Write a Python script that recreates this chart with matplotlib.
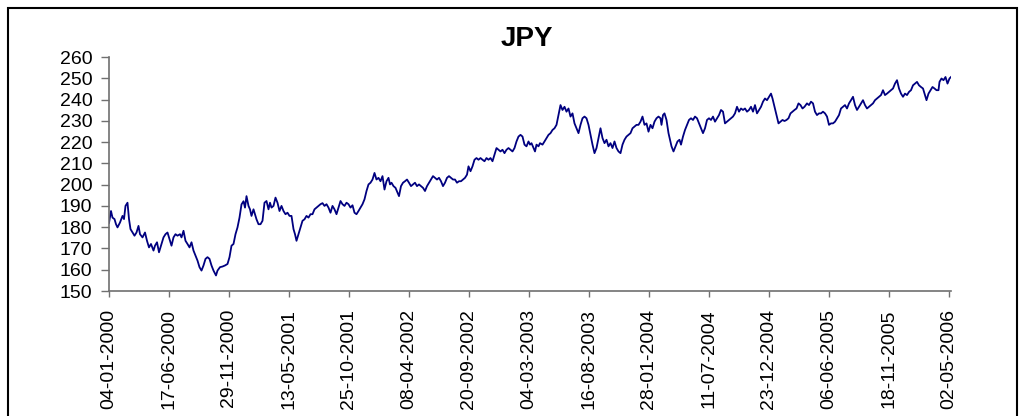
import matplotlib
matplotlib.use("Agg")
import matplotlib.pyplot as plt
from matplotlib.patches import Rectangle
import numpy as np

plt.rcParams['font.family'] = ['Liberation Sans', 'DejaVu Sans']

title = "JPY"

day_seg1 = [0, 4, 7, 11, 14, 17, 22, 27, 30, 33, 37, 40, 43, 47, 51, 55, 59, 62, 67, 72,
            76, 80, 84, 89, 92, 96, 100, 104, 109, 113, 117, 121, 125, 129, 133, 137, 142,
            145, 149, 153, 157, 161, 165, 169, 173, 177, 181, 185, 189, 193, 197, 201, 205,
            209, 214, 217, 222, 227, 232, 237, 241, 245, 249, 253, 257, 261, 265, 269, 272]
val_seg1 = [182, 187.6, 184.5, 183.8, 181.4, 179.9, 182.2, 185.3, 183.8, 190, 191.5, 183.8,
            179.1, 177.5, 176, 177.5, 180.6, 176.7, 175.2, 177.5, 173.6, 170.5, 172.1, 169,
            171.3, 172.9, 168.2, 171.3, 175.2, 176.7, 177.5, 174.4, 171.3, 175.2, 176.7, 176,
            176.7, 175.2, 178.3, 173.6, 172.1, 170.5, 172.9, 169, 166.6, 164.3, 161.2, 159.6,
            162, 165.1, 165.9, 165.1, 162, 159.6, 157.3, 159.6, 161.2, 161.5, 162, 162.7,
            165.9, 171.3, 172.1, 176.7, 179.9, 184.5, 190.7, 192.2, 189.2]

day_seg2 = [275, 279, 282, 285, 289, 292, 295, 299, 303, 307, 311, 315, 319, 322, 325, 329,
            333, 337, 341, 345, 349, 353, 357, 361, 365, 369, 372, 375, 379] + \
           list(range(383, 552, 4))
val_seg2 = [194.6, 190, 188.4, 185.3, 188.4, 186.1, 183.7, 181.4, 181.4, 183, 191.5, 192.3,
            188.4, 191.5, 189.2, 190, 193.9, 191.5, 187.6, 190, 187.6, 186.1, 186.8, 185.3,
            185.3, 179.1, 176.7, 173.6, 176.7,
            179.8, 183, 183.7, 185.3, 184.5, 186.1, 186.1, 188.4, 189.2, 190, 190.8, 191.3,
            190, 190.8, 189.2, 186.8, 190, 188.4, 186.1, 189.2, 192.3, 190.8, 190, 191.5,
            190.8, 189.2, 190.3, 186.8, 186.1, 187.6, 189.2, 190.8, 193.1, 197, 200.1, 200.9,
            202.4, 205.5, 202.4, 203.2, 201.6, 204, 197.7]

day_seg3 = [555, 559, 562, 565, 569, 573, 577, 580] + list(range(584, 717, 4)) + [719] + \
           list(range(723, 832, 4))
val_seg3 = [201.6, 203.2, 200.1, 200.9, 199.3, 198.5, 196.2, 194.6,
            199.3, 200.9, 201.6, 202.4, 200.9, 199.3, 200.1, 200.9, 199.3, 200.1, 199.3, 198.5,
            197, 199.3, 200.9, 202.4, 204, 203.2, 202.4, 203.2, 201.6, 199.3, 200.9, 203.2,
            204, 203.2, 202.4, 202.4, 200.9, 201.6, 201.6, 202.4, 203.2, 204.7,
            208.6,
            206.3, 208.6, 211.7, 212.5, 211.7, 212.5, 211.7, 211, 212.5, 211.7, 212.5, 211,
            214.1, 217.2, 216.4, 215.6, 216.4, 214.8, 216.4, 217.2, 216.4, 215.6, 217.2, 220.3,
            222.6, 223.4, 222.6, 218.8]

day_seg4 = [835, 839, 842, 845, 849, 852, 855, 859, 862] + list(range(867, 1104, 4)) + \
           [1105, 1108, 1111]
val_seg4 = [218, 220.3, 218.8, 219.5, 217.2, 215.6, 218.8, 218, 219.5,
            218.8, 220.3, 221.9, 223.4, 224.2, 225.7, 226.5, 228.1, 232.7, 237.4, 235.1, 236.6,
            234.3, 235.8, 232, 233.5, 228.8, 226.5, 224.2, 228.1, 231.2, 232, 231.2, 228.1,
            223.4, 218.8, 214.8, 217.2, 221.9, 226.5, 221.9, 219.5, 221.1, 218, 219.5, 217.2,
            220.3, 217.2, 215.6, 214.8, 218.8, 221.1, 222.6, 223.4, 224.2, 226.5, 227.3, 228.1,
            228.1, 229.6, 232, 228.1, 228.8, 224.9, 228.1, 226.5, 229.6, 231.2, 232, 231.2,
            228.1, 232.7, 233.5]

day_seg5 = [1115, 1119, 1122, 1125, 1129, 1133, 1137, 1141, 1144] + \
           list(range(1148, 1325, 4)) + [1327] + list(range(1331, 1392, 4))
val_seg5 = [230.4, 224.2, 221.1, 218, 215.6, 218, 220.3, 221.1, 218.8,
            222.6, 225.7, 228.1, 230.4, 231.2, 230.4, 232, 231.2, 228.8, 226.5, 224.2, 226.5,
            230.4, 231.2, 230.4, 232, 229.6, 231.2, 232.7, 235.1, 234.3, 228.8, 229.6, 230.4,
            231.2, 232, 233.5, 236.6, 234.3, 235.8, 235.1, 235.8, 234.3, 235.1, 236.6, 234.3,
            237.4, 233.5, 235.1, 236.6, 239, 240.5, 239.7, 241.3, 242.8,
            240.5,
            236.6, 232.7, 228.8, 229.6, 230.4, 229.9, 230.4, 231.2, 233.5, 234.3, 235.1, 235.8,
            238.2, 237.4, 235.8, 236.6]

day_seg6 = list(range(1396, 1633, 4)) + [1635, 1639, 1643, 1647, 1651, 1655, 1659, 1661,
                                         1665, 1669, 1673, 1677, 1681, 1684]
val_seg6 = [238.2, 237.4, 239, 238.2, 234.3, 232.7, 233.5, 233.5, 234.3, 233.5, 232, 228.1,
            228.8, 228.8, 229.6, 231.2, 232.7, 235.8, 236.6, 237.4, 235.8, 238.2, 239.7, 241.3,
            237.4, 235.1, 236.6, 238.2, 239.7, 237.4, 235.8, 236.6, 237.4, 238.2, 239.7, 240.5,
            241.3, 242.1, 244.4, 242.1, 242.8, 243.6, 244.4, 245.2, 247.5, 249.1, 245.2, 242.8,
            241.3, 242.8, 242.1, 243.6, 244.4, 246.7, 247.5, 248.3, 246.7, 245.9, 245.2, 242.1,
            239.7, 242.8, 244.4, 245.9, 245.2, 244.4, 244.4, 248.3, 249.9, 249.1, 250.6, 247.5,
            249.9, 250.6]

tick_labels = ["04-01-2000", "17-06-2000", "29-11-2000", "13-05-2001", "25-10-2001",
               "08-04-2002", "20-09-2002", "04-03-2003", "16-08-2003", "28-01-2004",
               "11-07-2004", "23-12-2004", "06-06-2005", "18-11-2005", "02-05-2006"]
tick_step = 120
y_ticks = list(range(150, 261, 10))

days = np.array(day_seg1 + day_seg2 + day_seg3 + day_seg4 + day_seg5 + day_seg6)
vals = np.array(val_seg1 + val_seg2 + val_seg3 + val_seg4 + val_seg5 + val_seg6)

W, H = 1027, 416
fig = plt.figure(figsize=(W / 100, H / 100), dpi=100)
fig.patches.append(Rectangle((8 / W, -0.05), 1009 / W, 1 - 8 / H + 0.05,
                             transform=fig.transFigure, fill=False,
                             edgecolor='black', linewidth=1.5))

ax = fig.add_axes([109 / W, (H - 291) / H, (951 - 109) / W, (291 - 57) / H])
ax.plot(days, vals, color='#000080', linewidth=1.3)

ax.set_xlim(0, days[-1])
ax.set_ylim(150, 260)
ax.set_yticks(y_ticks)
ax.set_xticks([i * tick_step for i in range(len(tick_labels))])
ax.set_xticklabels(tick_labels, rotation=90)
ax.tick_params(axis='both', labelsize=14, width=1, color='#707070', direction='out')
ax.tick_params(axis='y', length=6, pad=6)
ax.tick_params(axis='x', length=4, pad=9)
for s in ['top', 'right']:
    ax.spines[s].set_visible(False)
for s in ['left', 'bottom']:
    ax.spines[s].set_color('#707070')
    ax.spines[s].set_linewidth(1.2)

fig.text(527 / W, 1 - 39 / H, title, ha='center', va='center',
         fontsize=20, fontweight='bold')

fig.savefig("out.png", dpi=100)
